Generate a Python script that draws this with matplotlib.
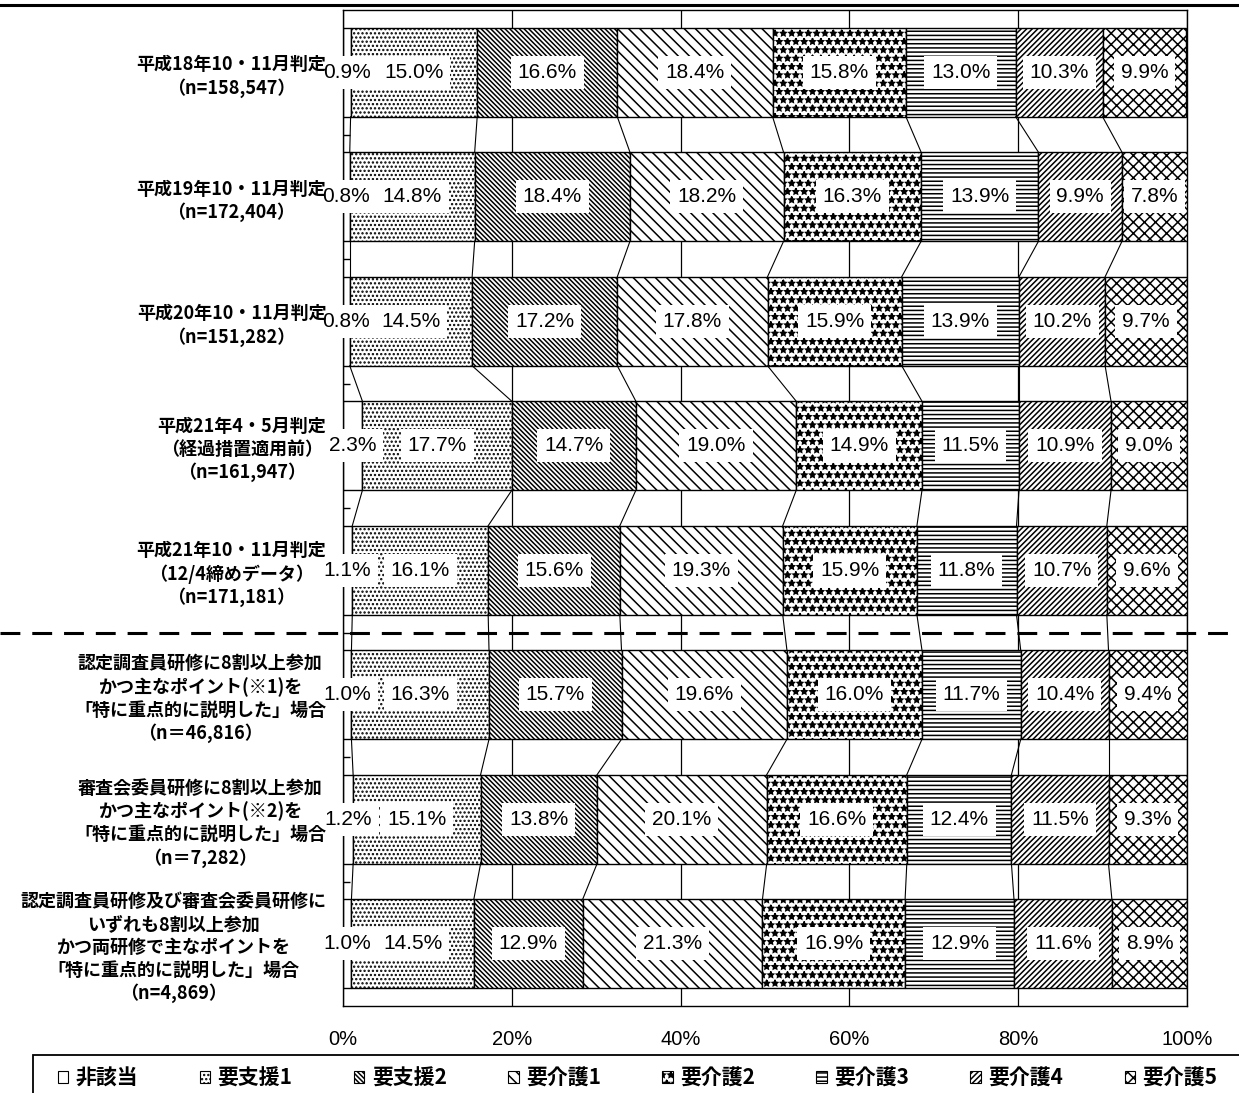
import numpy as np
import matplotlib
matplotlib.use("Agg")
import matplotlib.pyplot as plt
import matplotlib.transforms as mtransforms
from matplotlib.patches import Patch, Rectangle
from matplotlib.lines import Line2D

# care level share (%) per judgement group
categories = [
    "平成18年10・11月判定\n（n=158,547）",
    "平成19年10・11月判定\n（n=172,404）",
    "平成20年10・11月判定\n（n=151,282）",
    "平成21年4・5月判定\n（経過措置適用前）\n（n=161,947）",
    "平成21年10・11月判定\n（12/4締めデータ）\n（n=171,181）",
    "認定調査員研修に8割以上参加\nかつ主なポイント(※1)を\n「特に重点的に説明した」場合\n（n＝46,816）",
    "審査会委員研修に8割以上参加\nかつ主なポイント(※2)を\n「特に重点的に説明した」場合\n（n＝7,282）",
    "認定調査員研修及び審査会委員研修に\nいずれも8割以上参加\nかつ両研修で主なポイントを\n「特に重点的に説明した」場合\n（n=4,869）",
]
levels = ["非該当", "要支援1", "要支援2", "要介護1", "要介護2", "要介護3", "要介護4", "要介護5"]

hi_gaitou = [0.9, 0.8, 0.8, 2.3, 1.1, 1.0, 1.2, 1.0]
shien1 = [15.0, 14.8, 14.5, 17.7, 16.1, 16.3, 15.1, 14.5]
shien2 = [16.6, 18.4, 17.2, 14.7, 15.6, 15.7, 13.8, 12.9]
kaigo1 = [18.4, 18.2, 17.8, 19.0, 19.3, 19.6, 20.1, 21.3]
kaigo2 = [15.8, 16.3, 15.9, 14.9, 15.9, 16.0, 16.6, 16.9]
kaigo3 = [13.0, 13.9, 13.9, 11.5, 11.8, 11.7, 12.4, 12.9]
kaigo4 = [10.3, 9.9, 10.2, 10.9, 10.7, 10.4, 11.5, 11.6]
kaigo5 = [9.9, 7.8, 9.7, 9.0, 9.6, 9.4, 9.3, 8.9]

series = [hi_gaitou, shien1, shien2, kaigo1, kaigo2, kaigo3, kaigo4, kaigo5]
hatches = ["", "....", "\\" * 7, "\\" * 3, "**", "----", "/" * 6, "xxx"]

plt.rcParams["hatch.linewidth"] = 1.1
jp_font = ["Noto Sans CJK JP", "DejaVu Sans"]
num_font = ["Liberation Sans", "Noto Sans CJK JP"]

fig = plt.figure(figsize=(12.39, 10.93), dpi=100)
ax = fig.add_axes([343 / 1239, 1 - 1006 / 1093, 844 / 1239, 996 / 1093])

y = np.arange(len(categories))
bar_h = 0.715
left = np.zeros(len(categories))
edges = [left.copy()]
for vals, hatch in zip(series, hatches):
    bars = ax.barh(y, vals, left=left, height=bar_h, color="white",
                   edgecolor="black", linewidth=1.0, hatch=hatch, zorder=2)
    ax.bar_label(bars, labels=[f"{v:.1f}%" for v in vals], label_type="center",
                 fontsize=15, family=num_font, zorder=4,
                 bbox=dict(boxstyle="square,pad=0.33", fc="white", ec="none"))
    left = left + np.array(vals)
    edges.append(left.copy())

# series lines joining segment boundaries of neighbouring bars
cum = np.array(edges)
for i in range(len(categories) - 1):
    for k in range(1, len(series)):
        ax.plot([cum[k, i], cum[k, i + 1]], [i + bar_h / 2, i + 1 - bar_h / 2],
                color="black", lw=0.8, zorder=3)

ax.set_xlim(0, 100)
ax.set_ylim(len(categories) - 0.5, -0.5)
ax.set_xticks(range(0, 101, 20))
ax.set_xticklabels([f"{v}%" for v in range(0, 101, 20)], fontsize=14.5, family=num_font)
ax.set_yticks(y)
ax.set_yticklabels(categories, fontsize=13, family=jp_font, weight="bold", linespacing=1.25)
for lbl in ax.get_yticklabels():
    lbl.set_multialignment("center")
ax.set_yticks(np.arange(0.5, len(categories) - 0.5, 1), minor=True)
ax.tick_params(axis="x", length=0, pad=17)
ax.tick_params(axis="y", which="major", length=0, pad=12)
ax.tick_params(axis="y", which="minor", direction="in", length=5, width=1)
ax.xaxis.grid(True, color="black", lw=0.9)
ax.set_axisbelow(True)
# keep the group names above the value boxes where they touch
ax.yaxis.set_zorder(5)
for sp in ax.spines.values():
    sp.set_linewidth(1.0)

# dashed separator between the yearly judgements and the training groups
sep = mtransforms.blended_transform_factory(fig.transFigure, ax.transData)
fig.add_artist(Line2D([0, 1], [4.5, 4.5], transform=sep, color="black",
                      lw=2.2, linestyle=(0, (6.5, 3.9))))

# page rule at the top
fig.add_artist(Line2D([0, 1], [1 - 5 / 1093] * 2, transform=fig.transFigure,
                      color="black", lw=2.2))

# legend box
fig.add_artist(Rectangle((33 / 1239, -0.05), 1.0, 0.05 + 1 - 1055 / 1093,
                         transform=fig.transFigure, fill=False, ec="black", lw=1.3))
handles = [Patch(facecolor="white", edgecolor="black", hatch=h, lw=0.8) for h in hatches]
fig.legend(handles, levels, loc="center left", bbox_to_anchor=(58 / 1239, 1 - 1078 / 1093),
           ncol=8, frameon=False, handlelength=0.5, handleheight=0.5,
           handletextpad=0.35, columnspacing=2.95, borderpad=0, borderaxespad=0,
           prop=dict(family=jp_font, size=15, weight="bold"))

fig.savefig("out.png", dpi=100)
